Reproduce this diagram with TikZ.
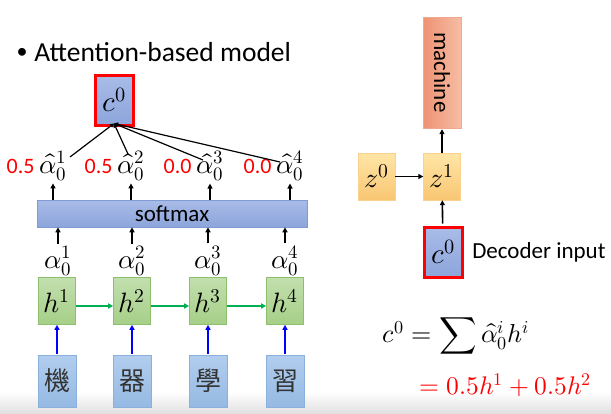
\documentclass[tikz,border=0pt]{standalone}
\usepackage{fontspec}
\usepackage{unicode-math}
\setmainfont{Carlito}
\setmathfont{Latin Modern Math}
\newfontfamily\cjk{Noto Sans CJK TC}
\usetikzlibrary{arrows.meta,positioning}

\definecolor{hiRed}{HTML}{FF0000}
\definecolor{ctxTop}{HTML}{A9BCE8}
\definecolor{ctxBot}{HTML}{8DA5DB}
\definecolor{ctxLine}{HTML}{7F9BD3}
\definecolor{hidTop}{HTML}{C2DFAE}
\definecolor{hidBot}{HTML}{A6CF88}
\definecolor{hidLine}{HTML}{8EBF6E}
\definecolor{inTop}{HTML}{B2CDEE}
\definecolor{inBot}{HTML}{95BAE3}
\definecolor{inLine}{HTML}{8CB0DC}
\definecolor{decTop}{HTML}{FFE6A6}
\definecolor{decBot}{HTML}{F9C673}
\definecolor{outLeft}{HTML}{EE9273}
\definecolor{outRight}{HTML}{F6BDA4}
\definecolor{rnnGreen}{HTML}{00B050}
\definecolor{inkGray}{HTML}{333333}

\begin{document}
\begin{tikzpicture}[x=1pt, y=-1pt, line width=0.9pt,
  ctx/.style={draw=hiRed, line width=3pt, top color=ctxTop, bottom color=ctxBot,
    minimum width=38pt, minimum height=50pt, inner sep=0pt, font=\fontsize{29}{31}\selectfont},
  hid/.style={draw=hidLine, line width=0.6pt, top color=hidTop, bottom color=hidBot,
    minimum width=37pt, minimum height=47pt, inner sep=0pt, font=\fontsize{28}{30}\selectfont},
  tok/.style={draw=inLine, line width=0.6pt, top color=inTop, bottom color=inBot,
    minimum width=38pt, minimum height=52pt, inner sep=0pt, text=inkGray,
    font=\cjk\fontsize{26}{28}\selectfont},
  dec/.style={draw=decBot!80!white, line width=0.4pt, top color=decTop, bottom color=decBot,
    minimum width=37pt, minimum height=47pt, inner sep=0pt, font=\fontsize{28}{30}\selectfont},
  lbl/.style={inner sep=1pt, font=\fontsize{27}{29}\selectfont},
  num/.style={inner sep=1pt, text=hiRed, font=\fontsize{22}{24}\selectfont},
  arr/.style={-{Triangle[length=5pt,width=5pt]}, line width=1.6pt},
]
\useasboundingbox (0,0) rectangle (611,413);

% slide edge at the bottom
\fill[top color=white, bottom color=black!12, draw=none] (0,392) rectangle (611,413);

% title
\node (dot)   at (22,53) {\fontsize{22}{24}\selectfont\textbullet};
\node (title) at (34,52) [anchor=west, inner sep=0pt, font=\fontsize{27.5}{30}\selectfont] {Attention-based model};

% encoder: input tokens and hidden states
\node[tok] (w1) at ( 57,381) {機};
\node[tok] (w2) at (132,381) {器};
\node[tok] (w3) at (208,381) {學};
\node[tok] (w4) at (285,381) {習};

\node[hid] (h1) at ( 57,301) {$h^1$};
\node[hid] (h2) at (132,301) {$h^2$};
\node[hid] (h3) at (208,301) {$h^3$};
\node[hid] (h4) at (285,301) {$h^4$};

\draw[arr, blue, shorten <=1pt] (w1) -- (h1);
\draw[arr, blue, shorten <=1pt] (w2) -- (h2);
\draw[arr, blue, shorten <=1pt] (w3) -- (h3);
\draw[arr, blue, shorten <=1pt] (w4) -- (h4);

\draw[arr, rnnGreen, line width=1.3pt] ([yshift=-5pt]h1.east) -- ([yshift=-5pt]h2.west);
\draw[arr, rnnGreen, line width=1.3pt] ([yshift=-5pt]h2.east) -- ([yshift=-5pt]h3.west);
\draw[arr, rnnGreen, line width=1.3pt] ([yshift=-5pt]h3.east) -- ([yshift=-5pt]h4.west);

% match scores and softmax
\node[lbl] (a1) at ( 58,261) {$\alpha_0^1$};
\node[lbl] (a2) at (132,261) {$\alpha_0^2$};
\node[lbl] (a3) at (208,261) {$\alpha_0^3$};
\node[lbl] (a4) at (285,261) {$\alpha_0^4$};

\node[draw=ctxLine, line width=0.6pt, top color=ctxTop, bottom color=ctxBot,
  minimum width=270pt, minimum height=27pt, inner sep=0pt,
  font=\fontsize{23}{25}\selectfont] (sm) at (172,213.5) {softmax};

\draw[arr, shorten <=1pt] (a1) -- (a1 |- sm.south);
\draw[arr, shorten <=1pt] (a2) -- (a2 |- sm.south);
\draw[arr, shorten <=1pt] (a3) -- (a3 |- sm.south);
\draw[arr, shorten <=1pt] (a4) -- (a4 |- sm.south);

\node[lbl] (ah1) at ( 53,166) {$\hat{\alpha}_0^1$};
\node[lbl] (ah2) at (131,166) {$\hat{\alpha}_0^2$};
\node[lbl] (ah3) at (210,166) {$\hat{\alpha}_0^3$};
\node[lbl] (ah4) at (290,166) {$\hat{\alpha}_0^4$};

\draw[arr, shorten >=1pt] (sm.north -| ah1) -- (ah1);
\draw[arr, shorten >=1pt] (sm.north -| ah2) -- (ah2);
\draw[arr, shorten >=1pt] (sm.north -| ah3) -- (ah3);
\draw[arr, shorten >=1pt] (sm.north -| ah4) -- (ah4);

\node[num, left=2pt of ah1] (n1) {0.5};
\node[num, left=2pt of ah2] (n2) {0.5};
\node[num, left=2pt of ah3] (n3) {0.0};
\node[num, left=2pt of ah4] (n4) {0.0};

% weighted sum into the context vector
\node[ctx] (c0) at (114,100) {$c^0$};
\coordinate (cIn) at ([yshift=3pt]c0.south);
\coordinate (t1) at ( 70,157);
\coordinate (t2) at (128,154);
\coordinate (t3) at (203,160);
\coordinate (t4) at (280,162);
\draw[line width=1.2pt, -{Triangle[length=4pt,width=4pt]}] (t1) -- (cIn);
\draw[line width=1.2pt, -{Triangle[length=4pt,width=4pt]}] (t2) -- (cIn);
\draw[line width=1.2pt, -{Triangle[length=4pt,width=4pt]}] (t3) -- (cIn);
\draw[line width=1.2pt, -{Triangle[length=4pt,width=4pt]}] (t4) -- (cIn);

% decoder
\node[draw=outLeft!80!white, line width=0.4pt, left color=outLeft, right color=outRight,
  minimum width=38pt, minimum height=111pt, inner sep=0pt] (out) at (442,72.5) {};
\node[rotate=-90, font=\fontsize{23}{25}\selectfont] (outTxt) at (out.center) {machine};
\node[dec] (z1) at (442,176.5) {$z^1$};
\node[dec] (z0) at (376.5,176.5) {$z^0$};
\node[ctx] (cIn0) at (443,252) {$c^0$};
\node[font=\fontsize{23}{25}\selectfont, right=5pt of cIn0] (decLbl) {Decoder input};

\draw[arr] (z0) -- (z1);
\draw[arr, shorten <=2pt] (cIn0) -- (z1);
\draw[arr, shorten >=1pt] (z1) -- (out);

% context vector formula
\node[font=\fontsize{26}{28}\selectfont] (eqA) at (456,336) {$c^0=\displaystyle\sum\hat{\alpha}_0^i h^i$};
\node[anchor=west, text=hiRed, font=\fontsize{25.5}{28}\selectfont] (eqB) at (416,385) {$=0.5h^1+0.5h^2$};

\end{tikzpicture}
\end{document}
